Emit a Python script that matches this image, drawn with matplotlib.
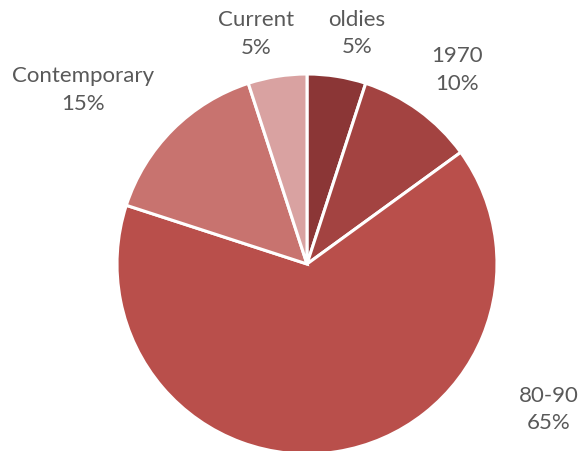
import numpy as np
import matplotlib.pyplot as plt

labels = ['oldies', '1970', '80-90', 'Contemporary', 'Current']
shares = [5, 10, 65, 15, 5]
colors = ['#8B3636', '#A34341', '#B94F4B', '#C8736F', '#D9A2A1']

# label positions (polar, in units of pie radius) - Excel best fit look
label_pos = [(1.245, 77.8), (1.295, 52.4), (1.485, -30.9), (1.496, 142.0), (1.245, 102.4)]

plt.rcParams['font.family'] = ['Lato', 'DejaVu Sans']

W, H, dpi = 584, 452, 100
R = 190.0
cx, cy = 307.0, 187.0

fig = plt.figure(figsize=(W / dpi, H / dpi), dpi=dpi)
ax = fig.add_axes([0, 0, 1, 1])

ax.pie(shares, colors=colors, startangle=90, counterclock=False, radius=1.0,
       wedgeprops=dict(edgecolor='white', linewidth=2.2))

for lab, val, (r, ang) in zip(labels, shares, label_pos):
    a = np.deg2rad(ang)
    ax.text(r * np.cos(a), r * np.sin(a), '%s\n%d%%' % (lab, val),
            ha='center', va='center', fontsize=16, color='#595959', linespacing=1.45)

ax.set_xlim(-cx / R, (W - cx) / R)
ax.set_ylim(-cy / R, (H - cy) / R)
ax.set_aspect('equal')
ax.axis('off')

fig.savefig('out.png', dpi=dpi)
